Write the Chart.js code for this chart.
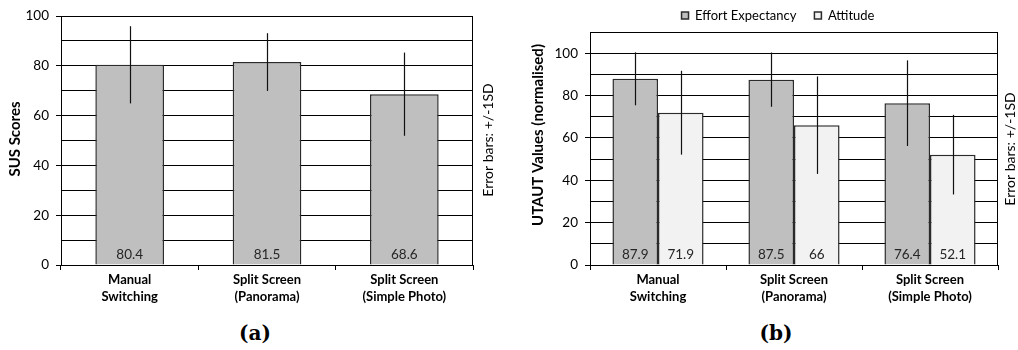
<!DOCTYPE html>
<html><head><meta charset="utf-8">
<script src="https://cdn.jsdelivr.net/npm/chart.js@4/dist/chart.umd.min.js"></script>
<style>
html,body{margin:0;padding:0;background:#fff}
body{width:1018px;height:350px;position:relative;overflow:hidden}
#ca{position:absolute;left:0;top:0}
#cb{position:absolute;left:500px;top:0}
.cap{position:absolute;top:323px;font:bold 20px "DejaVu Serif",serif;line-height:20px;transform:translateX(-50%);color:#000}
</style></head><body>
<canvas id="ca" width="500" height="310"></canvas>
<canvas id="cb" width="518" height="310"></canvas>
<div class="cap" style="left:255px">(a)</div>
<div class="cap" style="left:776px">(b)</div>
<script>
// ---- data ----
const categories = [['Manual', 'Switching'], ['Split Screen', '(Panorama)'], ['Split Screen', '(Simple Photo)']];
const susScores = [80.4, 81.5, 68.6];
const susSD = [15.5, 11.6, 16.7];
const effortValues = [87.9, 87.5, 76.4];
const effortSD = [12.5, 12.8, 20.2];
const attitudeValues = [71.9, 66, 52.1];
const attitudeSD = [19.8, 23.0, 18.8];
const seriesNames = ['Effort Expectancy', 'Attitude'];
const yTickLabels = [0, 20, 40, 60, 80, 100];
const yLabelA = 'SUS Scores';
const yLabelB = 'UTAUT Values (normalised)';
const errorNote = 'Error bars: +/-1SD';

const FONT = 'Lato';

const extras = {
  id: 'extras',
  afterLayout(chart, args, opts) {
    if (opts.legendCenter != null && chart.legend) {
      const lg = chart.legend;
      const half = (lg.right - lg.left) / 2;
      lg.left = opts.legendCenter - half;
      lg.right = opts.legendCenter + half;
    }
  },
  afterDatasetsDraw(chart, args, opts) {
    const ctx = chart.ctx, ys = chart.scales.y, ca = chart.chartArea;
    ctx.save();
    // frame (right side; top coincides with the top gridline)
    ctx.strokeStyle = '#000'; ctx.lineWidth = 1;
    ctx.beginPath();
    const r = Math.round(ca.right) - 0.5;
    ctx.moveTo(r, ys.getPixelForValue(ys.max)); ctx.lineTo(r, Math.round(ca.bottom));
    ctx.stroke();
    // error bars + value labels
    chart.data.datasets.forEach((ds, i) => {
      const meta = chart.getDatasetMeta(i);
      const sd = opts.sd[i];
      meta.data.forEach((bar, j) => {
        const v = ds.data[j];
        const x = Math.round(bar.x) + 0.5;
        ctx.strokeStyle = '#111'; ctx.lineWidth = 1.2;
        ctx.beginPath();
        ctx.moveTo(x, ys.getPixelForValue(v + sd[j]));
        ctx.lineTo(x, ys.getPixelForValue(v - sd[j]));
        ctx.stroke();
        ctx.fillStyle = '#262626';
        ctx.font = '13.5px ' + FONT;
        ctx.textAlign = 'center'; ctx.textBaseline = 'middle';
        ctx.fillText(String(v), bar.x, ys.getPixelForValue(0) - 10);
      });
    });
    // rotated texts
    (opts.texts || []).forEach(tx => {
      ctx.save();
      ctx.translate(tx.x, tx.y);
      ctx.rotate(-Math.PI / 2);
      ctx.font = tx.font;
      ctx.fillStyle = '#000';
      ctx.textAlign = 'center'; ctx.textBaseline = 'middle';
      ctx.fillText(tx.text, 0, 0);
      ctx.restore();
    });
    ctx.restore();
  }
};

function yScale(max, width) {
  return {
    min: 0, max: max,
    ticks: {
      stepSize: 10, autoSkip: false, padding: 7, color: '#000',
      font: { family: FONT, size: 13.5 },
      callback: v => yTickLabels.includes(v) ? String(v) : ''
    },
    grid: {
      color: '#000', lineWidth: 1, tickLength: 5,
      tickColor: c => (c.tick && yTickLabels.includes(c.tick.value)) ? '#000' : 'rgba(0,0,0,0)'
    },
    border: { color: '#000', width: 1 },
    afterFit(s) { s.width = width; }
  };
}
function xScale() {
  return {
    ticks: { color: '#000', padding: 1, maxRotation: 0, autoSkip: false,
      font: { family: FONT, size: 13, weight: 'bold', lineHeight: 1.3 } },
    grid: { drawOnChartArea: false, color: '#000', tickLength: 5, offset: true },
    border: { color: '#000', width: 1 },
    afterFit(s) { s.height = 45; }
  };
}

new Chart(document.getElementById('ca'), {
  type: 'bar',
  data: {
    labels: categories,
    datasets: [{ label: yLabelA, data: susScores, backgroundColor: '#bfbfbf', borderColor: '#2b2b2b', borderWidth: 1.5,
      categoryPercentage: 0.5, barPercentage: 1.0 }]
  },
  options: {
    responsive: false, animation: false, devicePixelRatio: 1,
    layout: { padding: { top: 16, right: 27, left: 0, bottom: 0 } },
    plugins: {
      legend: { display: false }, tooltip: { enabled: false },
      extras: { sd: [susSD], texts: [
        { text: yLabelA, x: 15, y: 139, font: 'bold 15px ' + FONT },
        { text: errorNote, x: 488, y: 140, font: '14px ' + FONT }
      ] }
    },
    scales: { x: xScale(), y: yScale(100, 61) }
  },
  plugins: [extras]
});

new Chart(document.getElementById('cb'), {
  type: 'bar',
  data: {
    labels: categories,
    datasets: [
      { label: seriesNames[0], data: effortValues, backgroundColor: '#bfbfbf', borderColor: '#2b2b2b', borderWidth: 1.5,
        categoryPercentage: 0.67, barPercentage: 1.0 },
      { label: seriesNames[1], data: attitudeValues, backgroundColor: '#f2f2f2', borderColor: '#2b2b2b', borderWidth: 1.5,
        categoryPercentage: 0.67, barPercentage: 1.0 }
    ]
  },
  options: {
    responsive: false, animation: false, devicePixelRatio: 1,
    layout: { padding: { top: -9, right: 20, left: 0, bottom: 0 } },
    plugins: {
      legend: { display: true, position: 'top',
        labels: { boxWidth: 7, boxHeight: 7, padding: 18, color: '#000', font: { family: FONT, size: 13 } } },
      tooltip: { enabled: false },
      extras: { sd: [effortSD, attitudeSD], legendCenter: 278, texts: [
        { text: yLabelB, x: 38, y: 135, font: 'bold 15px ' + FONT },
        { text: errorNote, x: 510, y: 149, font: '14px ' + FONT }
      ] }
    },
    scales: { x: xScale(), y: yScale(110, 90) }
  },
  plugins: [extras]
});
</script>
</body></html>
